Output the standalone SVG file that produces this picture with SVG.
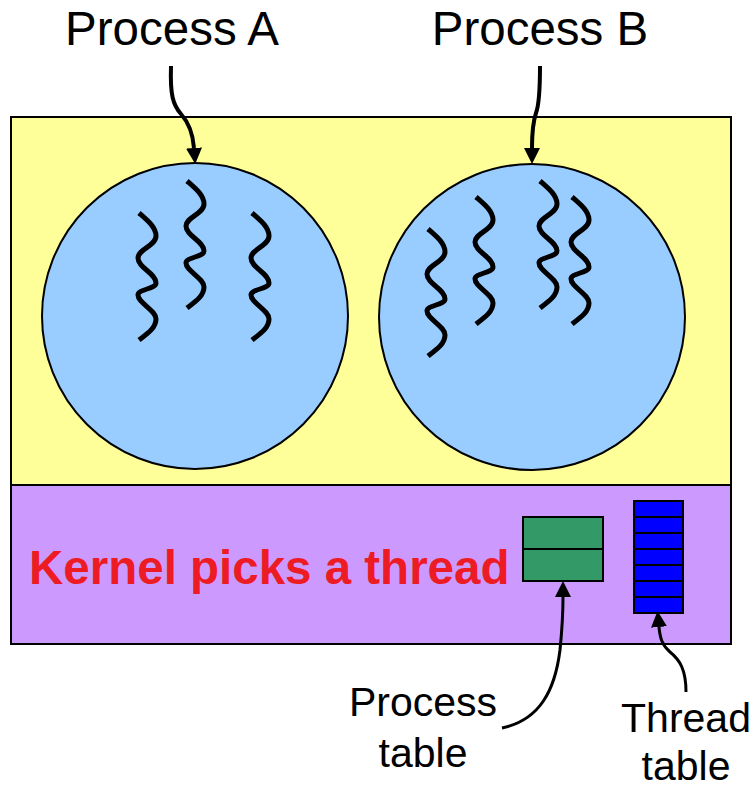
<svg xmlns="http://www.w3.org/2000/svg" width="756" height="789" viewBox="0 0 756 789">
  <style>
    .label { font-family: "Liberation Sans", Arial, sans-serif; fill: #000; }
    .big { font-size: 47.5px; text-anchor: middle; }
    .small { font-size: 41px; text-anchor: middle; }
    .kernel { font-family: "Liberation Sans", Arial, sans-serif; font-weight: bold; font-size: 47.5px; fill: #ED1C24; }
    .box { stroke: #000; stroke-width: 2; }
    .proc { fill: #99CCFF; stroke: #000; stroke-width: 2; }
    .thread { fill: none; stroke: #000; stroke-width: 5; stroke-linejoin: round; }
    .link { fill: none; stroke: #000; marker-end: url(#head); }
    .row { stroke: #000; stroke-width: 2; }
  </style>
  <defs>
    <marker id="head" viewBox="0 0 16 16" refX="0" refY="8" markerWidth="16" markerHeight="16" orient="auto" markerUnits="userSpaceOnUse">
      <path d="M0,0 L16,8 L0,16 z" fill="#000"/>
    </marker>
    <!-- one squiggly thread, 127px tall, origin at its top end -->
    <path id="squiggle" class="thread" d="M0,0 C8,7 17,14 17,23 C17,33 -1,36 -1,45 C-1,55 17,60 17,70 C17,76 -1,76 -1,82 C-1,90 17,97 17,106 C17,115 8,121 0,127"/>
  </defs>

  <!-- user space -->
  <g id="user-space">
    <rect class="box" x="11" y="117" width="720" height="368" fill="#FFFF99"/>
  </g>

  <!-- kernel space -->
  <g id="kernel-space">
    <rect class="box" x="11" y="485" width="720" height="159" fill="#CC99FF"/>
    <text class="kernel" x="29" y="584">Kernel picks a thread</text>
  </g>

  <g id="process-a">
    <circle class="proc" cx="195" cy="316" r="153"/>
    <use href="#squiggle" x="139" y="213"/>
    <use href="#squiggle" x="187" y="181"/>
    <use href="#squiggle" x="252" y="213"/>
    <text class="label big" x="172" y="45">Process A</text>
  </g>

  <g id="process-b">
    <circle class="proc" cx="532" cy="317" r="153"/>
    <use href="#squiggle" x="428" y="229"/>
    <use href="#squiggle" x="476" y="197"/>
    <use href="#squiggle" x="540" y="181"/>
    <use href="#squiggle" x="572" y="197"/>
    <text class="label big" x="540" y="45">Process B</text>
  </g>

  <g id="process-table">
    <rect class="box" x="523" y="517" width="80" height="64" fill="#339966"/>
    <line class="row" x1="523" y1="549" x2="603" y2="549"/>
    <text class="label small" x="423" y="716">Process</text>
    <text class="label small" x="423" y="767">table</text>
  </g>

  <g id="thread-table">
    <rect class="box" x="634" y="501" width="49" height="112" fill="#0000FF"/>
    <line class="row" x1="634" y1="517" x2="683" y2="517"/>
    <line class="row" x1="634" y1="533" x2="683" y2="533"/>
    <line class="row" x1="634" y1="549" x2="683" y2="549"/>
    <line class="row" x1="634" y1="565" x2="683" y2="565"/>
    <line class="row" x1="634" y1="581" x2="683" y2="581"/>
    <line class="row" x1="634" y1="597" x2="683" y2="597"/>
    <text class="label small" x="686" y="732">Thread</text>
    <text class="label small" x="686" y="780">table</text>
  </g>

  <!-- connectors -->
  <g id="connectors">
    <path class="link" stroke-width="4" d="M171,66 C170,95 173,105 181,114 C190,124 193,135 194,148"/>
    <path class="link" stroke-width="4" d="M540,66 C540,90 539,105 536,113 C533,122 532,135 532,148"/>
    <path class="link" stroke-width="3" d="M502,728 C540,720 555,690 560,650 C562,630 563,610 563,597"/>
    <path class="link" stroke-width="3" d="M686,692 C686,670 680,660 670,652 C662,645 660,638 659,627"/>
  </g>
</svg>
